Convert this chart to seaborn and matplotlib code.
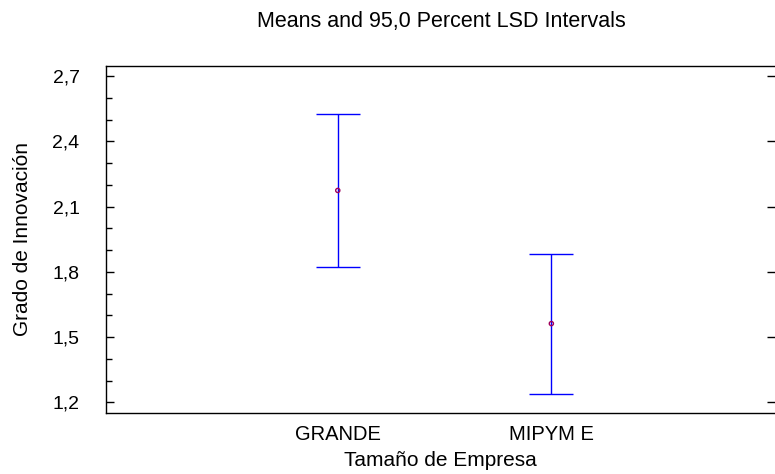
import matplotlib
matplotlib.use('Agg')

import matplotlib.pyplot as plt
import seaborn as sns
import numpy as np
import pandas as pd
from matplotlib.ticker import MultipleLocator, FuncFormatter

# datos
groups = ['GRANDE', 'MIPYM E']
means = [2.174, 1.562]
lower = [1.823, 1.240]
upper = [2.527, 1.882]
y_ticks = [1.2, 1.5, 1.8, 2.1, 2.4, 2.7]

sns.set_theme(style="ticks")
plt.rcParams['font.family'] = ['Liberation Sans', 'DejaVu Sans']
plt.rcParams['text.color'] = 'black'
plt.rcParams['axes.labelcolor'] = 'black'
plt.rcParams['xtick.color'] = 'black'
plt.rcParams['ytick.color'] = 'black'

df = pd.DataFrame({'grupo': groups, 'media': means, 'lo': lower, 'hi': upper})
df['pos'] = np.arange(len(df))

fig = plt.figure(figsize=(7.75, 4.74), dpi=100)
ax = fig.add_axes([106 / 775, 1 - 413 / 474, 669 / 775, (413 - 66) / 474])

# intervalos LSD
ax.errorbar(df['pos'], df['media'],
            yerr=[df['media'] - df['lo'], df['hi'] - df['media']],
            fmt='none', ecolor='#0000ff', elinewidth=1.0,
            capsize=15.5, capthick=1.0)
sns.scatterplot(x='pos', y='media', data=df, ax=ax, marker='o', s=9,
                facecolor='none', edgecolor='#a0005a', linewidth=1.0, zorder=5)

ax.set_xlim(-1.085, 2.047)
ax.set_ylim(1.151, 2.746)
ax.set_xticks(df['pos'])
ax.set_xticklabels(groups)
ax.set_yticks(y_ticks)
ax.yaxis.set_minor_locator(MultipleLocator(0.1))
ax.yaxis.set_major_formatter(FuncFormatter(lambda v, p: f'{v:.1f}'.replace('.', ',')))

ax.tick_params(axis='y', which='major', direction='in', length=6, width=1,
               labelsize=14, pad=19, right=True)
ax.tick_params(axis='y', which='minor', direction='in', length=4, width=1,
               left=True, right=False)
ax.tick_params(axis='x', which='both', length=0, labelsize=14.5, pad=9)

for side in ['left', 'top', 'bottom']:
    ax.spines[side].set_color('black')
    ax.spines[side].set_linewidth(1.0)
ax.spines['right'].set_visible(False)

ax.set_xlabel('Tamaño de Empresa', fontsize=15, labelpad=5)
ax.set_ylabel('Grado de Innovación', fontsize=15, labelpad=15)
fig.text(441 / 775, 1 - 22 / 474, 'Means and 95,0 Percent LSD Intervals',
         ha='center', va='center', fontsize=15.5)

fig.savefig('out.png', dpi=100)
plt.close(fig)
